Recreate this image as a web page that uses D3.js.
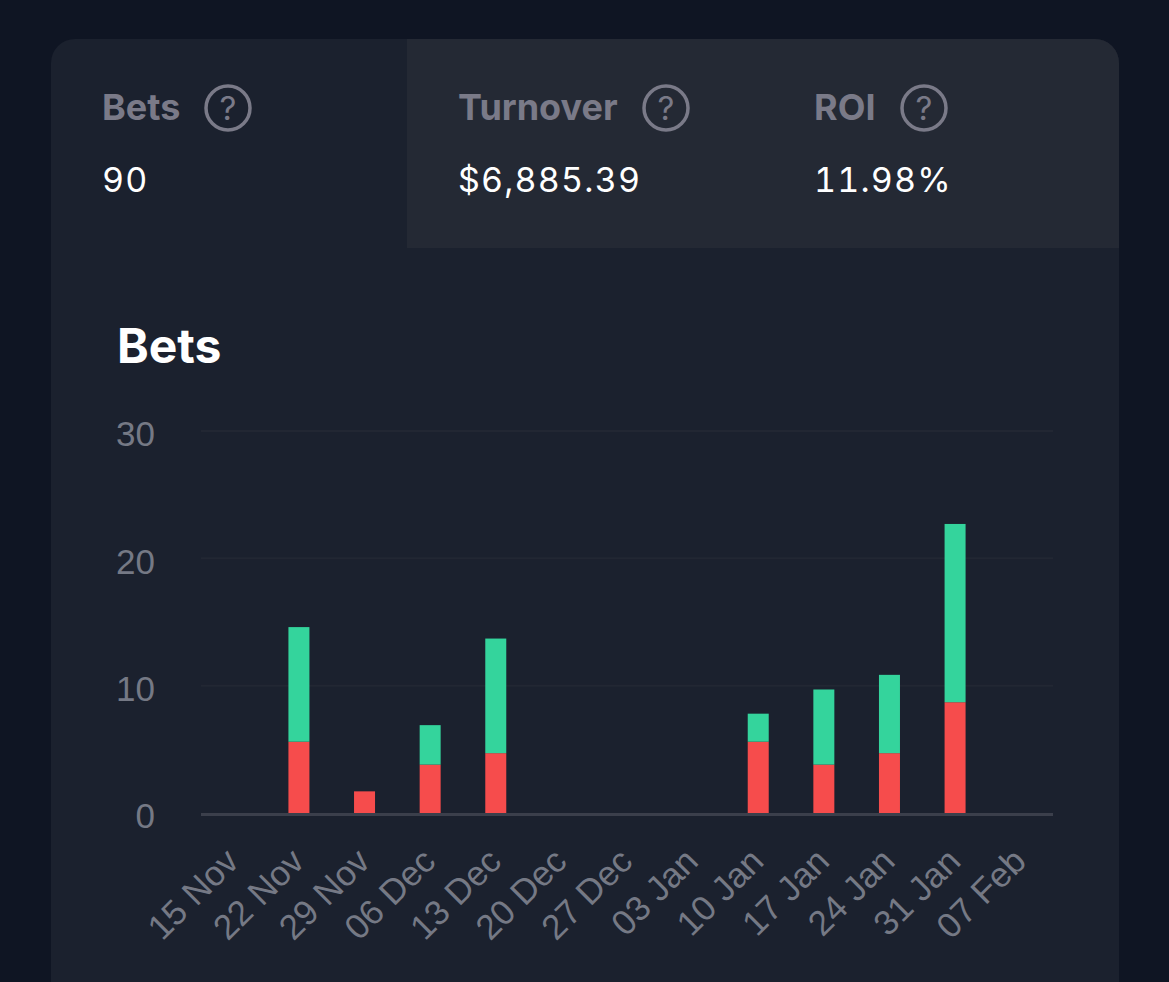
<!DOCTYPE html>
<html>
<head>
<meta charset="utf-8">
<script src="https://cdn.jsdelivr.net/npm/d3@7"></script>
<style>
  html, body { margin: 0; padding: 0; background: #0f1523; overflow: hidden; }
  svg { display: block; }
</style>
</head>
<body>
<svg id="chart" width="1169" height="982"></svg>
<script>
const weeks = ["15 Nov", "22 Nov", "29 Nov", "06 Dec", "13 Dec", "20 Dec", "27 Dec", "03 Jan", "10 Jan", "17 Jan", "24 Jan", "31 Jan", "07 Feb"];
const lost = [0, 5.6, 1.7, 3.8, 4.7, 0, 0, 0, 5.6, 3.8, 4.7, 8.7, 0];
const won = [0, 9, 0, 3.1, 9, 0, 0, 0, 2.2, 5.9, 6.15, 14, 0];
const yTicks = [0, 10, 20, 30];

const statNames = ["Bets", "Turnover", "ROI"];
const statValues = ["90", "$6,885.39", "11.98%"];
const statX = [103, 459, 815];
const helpX = [228, 666, 924];

const svg = d3.select("#chart");
const sans = "Inter, 'Noto Sans', sans-serif";
const helv = "'Liberation Sans', Arial, sans-serif";

// card
svg.append("path")
  .attr("d", "M51 982V63a24 24 0 0 1 24-24H1095a24 24 0 0 1 24 24V982Z")
  .attr("fill", "#1b212e");
svg.append("path")
  .attr("d", "M407 39H1095a24 24 0 0 1 24 24V248H407Z")
  .attr("fill", "#242934");

// stats row
statNames.forEach((name, i) => {
  svg.append("text")
    .attr("x", statX[i] - 1).attr("y", 120)
    .attr("font-family", sans).attr("font-size", 36).attr("font-weight", 700)
    .attr("fill", "#7a7a88")
    .text(name);
  svg.append("circle")
    .attr("cx", helpX[i]).attr("cy", 108).attr("r", 22)
    .attr("fill", "none").attr("stroke", "#7a7a88").attr("stroke-width", 3.5);
  svg.append("text")
    .attr("x", helpX[i]).attr("y", 120).attr("text-anchor", "middle")
    .attr("font-family", sans).attr("font-size", 33)
    .attr("fill", "#7a7a88")
    .text("?");
  svg.append("text")
    .attr("x", statX[i] - 1).attr("y", 192)
    .attr("font-family", sans).attr("font-size", 34).attr("letter-spacing", 1.2)
    .style("font-variant-numeric", "tabular-nums")
    .attr("fill", "#ffffff")
    .text(statValues[i]);
});

svg.append("text")
  .attr("x", 117).attr("y", 363)
  .attr("font-family", sans).attr("font-size", 48).attr("font-weight", 700)
  .attr("fill", "#ffffff")
  .text("Bets");

// scales
const x = d3.scaleBand().domain(weeks).range([200.5, 1053.5]).paddingInner(0.68).paddingOuter(0.34);
const y = d3.scaleLinear().domain([0, 30]).range([813, 431]);

// gridlines
svg.append("g")
  .selectAll("line")
  .data(yTicks.filter(d => d > 0))
  .join("line")
  .attr("x1", 201).attr("x2", 1053)
  .attr("y1", d => y(d)).attr("y2", d => y(d))
  .attr("stroke", "#222733").attr("stroke-width", 2);

// y axis labels
const yAxis = svg.append("g")
  .attr("transform", "translate(155,0)")
  .call(d3.axisLeft(y).tickValues(yTicks).tickSize(0).tickPadding(0));
yAxis.select(".domain").remove();
yAxis.selectAll("text")
  .attr("font-family", helv).attr("font-size", 35)
  .attr("fill", "#757985").attr("dy", "0.42em");

// stacked bars
const stacked = d3.stack().keys(["lost", "won"])(weeks.map((w, i) => ({ week: w, lost: lost[i], won: won[i] })));
const colors = { lost: "#f64c4c", won: "#34d49c" };

svg.append("g")
  .selectAll("g")
  .data(stacked)
  .join("g")
  .attr("fill", d => colors[d.key])
  .selectAll("rect")
  .data(d => d)
  .join("rect")
  .attr("x", d => x(d.data.week))
  .attr("width", x.bandwidth())
  .attr("y", d => y(d[1]))
  .attr("height", d => y(d[0]) - y(d[1]));

// baseline and x labels
svg.append("line")
  .attr("x1", 201).attr("x2", 1053)
  .attr("y1", 814.5).attr("y2", 814.5)
  .attr("stroke", "#3b3f4b").attr("stroke-width", 3);

const xAxis = svg.append("g")
  .attr("transform", "translate(-10,846)")
  .call(d3.axisBottom(x).tickSize(0).tickPadding(0));
xAxis.select(".domain").remove();
xAxis.selectAll("text")
  .attr("font-family", helv).attr("font-size", 35)
  .attr("fill", "#757985")
  .attr("text-anchor", "end")
  .attr("dy", "0.7em")
  .attr("transform", "rotate(-45)");
</script>
</body>
</html>
